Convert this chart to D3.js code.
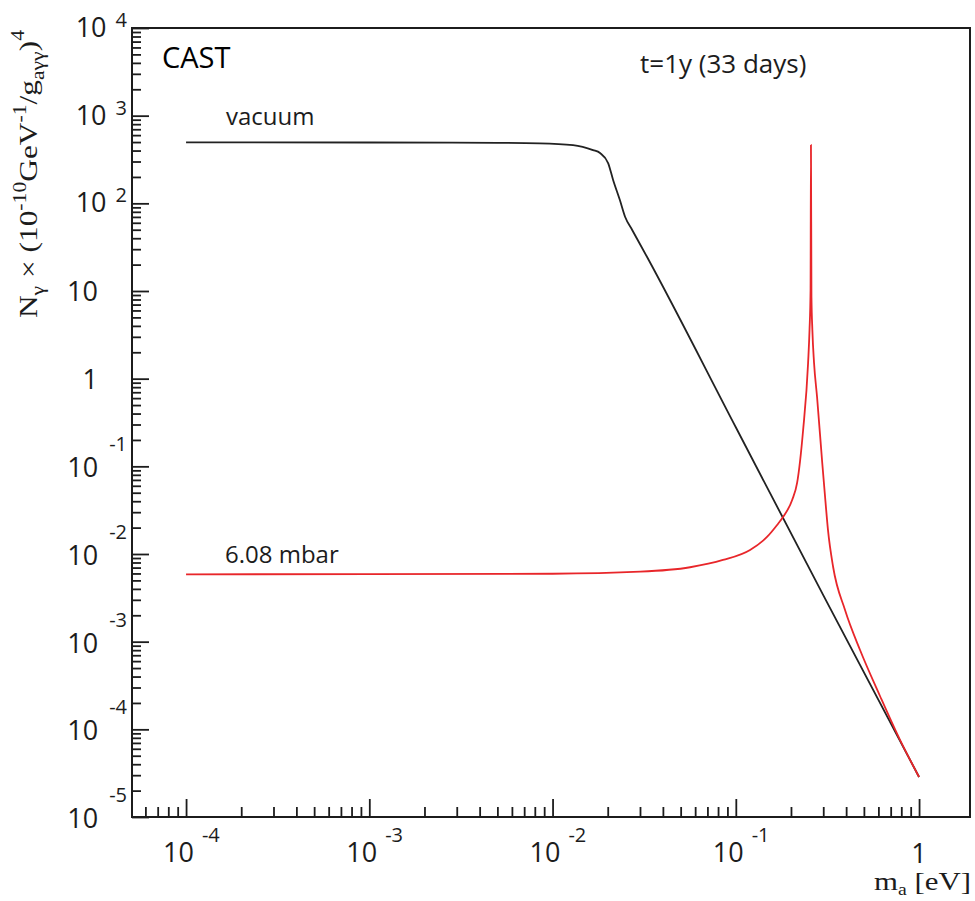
<!DOCTYPE html>
<html>
<head>
<meta charset="utf-8">
<script src="https://cdn.jsdelivr.net/npm/d3@7"></script>
<style>
  body { margin: 0; background: #fff; }
  svg { display: block; }
</style>
</head>
<body>
<div id="field"></div>
<script>
'use strict';

// vacuum curve: axion mass [eV] -> N_gamma
let vacMass  = [1e-4, 1e-3, 5e-3, 0.0085, 0.01294, 0.01663, 0.01816, 0.0201, 0.0214, 0.0233, 0.0249, 0.0272, 0.0328, 0.1, 0.3, 1.0],
    vacCount = [495, 494, 490, 484, 462, 405, 375, 288, 185, 109, 69.8, 49.7, 24.4, 0.279, 3.4e-3, 2.86e-5];

// 6.08 mbar curve
let gasMass  = [1e-4, 1e-3, 0.01, 0.0301, 0.0563, 0.0851, 0.1196, 0.148, 0.168, 0.181, 0.203, 0.216, 0.233, 0.248, 0.2525, 0.2558, 0.2571,
                0.2587, 0.2617, 0.2673, 0.2776, 0.2963, 0.308, 0.3184, 0.3397, 0.3945, 0.4764, 0.612, 0.787, 1.0],
    gasCount = [5.87e-3, 5.88e-3, 5.95e-3, 6.28e-3, 7.06e-3, 8.55e-3, 0.01112, 0.01564, 0.02143, 0.02643, 0.0413, 0.0646, 0.260, 1.51, 3.59, 10.2, 462,
                8.55, 3.59, 1.51, 0.618, 0.109, 0.0413, 0.0188, 7.11e-3, 2.30e-3, 8.03e-4, 2.40e-4, 7.57e-5, 2.86e-5];

// decade tick exponents
let xExps = [-4, -3, -2, -1, 0],
    yExps = [-5, -4, -3, -2, -1, 0, 1, 2, 3, 4];

let w = 975, h = 901,
    pl = 132, pr = 970, pt = 28, pb = 817,  // plot frame
    svg = d3.select('#field').append('svg').attr('width', w).attr('height', h);

let xScale = d3.scaleLog().domain([Math.pow(10, -4.295), Math.pow(10, 0.278)]).range([pl, pr]),
    yScale = d3.scaleLog().domain([1e-5, 1e4]).range([pb, pt]);

// minor ticks 2..9 x 10^n inside the domain
function minors(lo, hi, dom) {
  let out = [];
  for (let e = lo; e <= hi; e++) {
    for (let k = 2; k <= 9; k++) {
      let v = k * Math.pow(10, e);
      if (v > dom[0] && v < dom[1]) out.push(v);
    }
  }
  return out;
}

let ink = '#1c1c1c';

// y axis ticks (pointing inward)
let yMajor = yExps.map(e => Math.pow(10, e));
svg.append('g').attr('transform', 'translate(' + pl + ',0)')
  .call(d3.axisRight(yScale).tickValues(yMajor).tickSize(17).tickFormat(''))
  .call(g => g.select('.domain').remove());
svg.append('g').attr('transform', 'translate(' + pl + ',0)')
  .call(d3.axisRight(yScale).tickValues(minors(-5, 3, yScale.domain())).tickSize(9).tickFormat(''))
  .call(g => g.select('.domain').remove());

// x axis ticks (pointing up)
let xMajor = xExps.map(e => Math.pow(10, e));
svg.append('g').attr('transform', 'translate(0,' + pb + ')')
  .call(d3.axisTop(xScale).tickValues(xMajor).tickSize(18).tickFormat(''))
  .call(g => g.select('.domain').remove());
svg.append('g').attr('transform', 'translate(0,' + pb + ')')
  .call(d3.axisTop(xScale).tickValues(minors(-5, 0, xScale.domain())).tickSize(10).tickFormat(''))
  .call(g => g.select('.domain').remove());

svg.selectAll('.tick line').attr('stroke', ink).attr('stroke-width', 1.8);

// frame
svg.append('rect')
  .attr('x', pl).attr('y', pt)
  .attr('width', pr - pl).attr('height', pb - pt)
  .attr('fill', 'none').attr('stroke', ink).attr('stroke-width', 2);

// curves
let line = d3.line()
  .x(d => xScale(d[0]))
  .y(d => yScale(d[1]))
  .curve(d3.curveMonotoneX);

svg.append('path')
  .datum(vacMass.map((m, i) => [m, vacCount[i]]))
  .attr('d', line)
  .attr('fill', 'none').attr('stroke', '#222').attr('stroke-width', 1.8);

svg.append('path')
  .datum(gasMass.map((m, i) => [m, gasCount[i]]))
  .attr('d', line)
  .attr('fill', 'none').attr('stroke', '#e8262a').attr('stroke-width', 1.8);

// tick labels
let sans = '"Open Sans", "Noto Sans", sans-serif',
    serif = '"Liberation Serif", "DejaVu Serif", serif';

yExps.forEach(function(e) {
  let ty = yScale(Math.pow(10, e));
  let t = svg.append('text')
    .attr('font-family', sans).attr('font-size', 27).attr('fill', ink);
  if (e === 0 || e === 1) {
    t.attr('x', 98).attr('y', ty + 10).attr('text-anchor', 'end').text(e === 0 ? '1' : '10');
  } else {
    t.attr('x', 127).attr('y', ty + (e < 0 ? 11 : 9)).attr('text-anchor', 'end');
    t.append('tspan').text('10');
    t.append('tspan').attr('font-size', 20)
      .attr('dx', e < 0 ? 11 : 9).attr('dy', e < 0 ? -26 : -10)
      .text(String(e));
  }
});

xExps.forEach(function(e) {
  let tx = xScale(Math.pow(10, e));
  let t = svg.append('text')
    .attr('font-family', sans).attr('font-size', 27).attr('fill', ink);
  if (e === 0) {
    t.attr('x', tx).attr('y', 863).attr('text-anchor', 'middle').text('1');
  } else {
    t.attr('x', tx - 23).attr('y', 862);
    t.append('tspan').text('10');
    t.append('tspan').attr('font-size', 20).attr('dx', 8).attr('dy', -20).text(String(e));
  }
});

// axis titles
let xt = svg.append('text')
  .attr('x', 971).attr('y', 890).attr('text-anchor', 'end')
  .attr('font-family', serif).attr('font-size', 25).attr('fill', ink)
  .attr('textLength', 97).attr('lengthAdjust', 'spacingAndGlyphs');
xt.append('tspan').text('m');
xt.append('tspan').attr('font-size', 16).attr('dy', 5).text('a');
xt.append('tspan').attr('dy', -5).text('\u00a0[eV]');

let yt = svg.append('text')
  .attr('transform', 'translate(37,318) rotate(-90)')
  .attr('font-family', serif).attr('font-size', 26).attr('fill', ink)
  .attr('textLength', 288).attr('lengthAdjust', 'spacingAndGlyphs');
let yParts = [
  ['N', 26, 0], ['\u03b3', 18, 7], ['\u00a0\u00d7\u00a0(10', 26, -7], ['-10', 18, -11],
  ['GeV', 26, 11], ['-1', 18, -11], ['/g', 26, 11], ['a\u03b3\u03b3', 18, 7], [')', 26, -7], ['4', 18, -13]
];
yParts.forEach(function(p) {
  yt.append('tspan').attr('font-size', p[1]).attr('dy', p[2]).text(p[0]);
});

// annotations
svg.append('text').attr('x', 162).attr('y', 68)
  .attr('font-family', sans).attr('font-size', 29).attr('fill', '#000').text('CAST');
svg.append('text').attr('x', 640).attr('y', 73)
  .attr('font-family', sans).attr('font-size', 26).attr('fill', ink).text('t=1y (33 days)');
svg.append('text').attr('x', 226).attr('y', 125)
  .attr('font-family', sans).attr('font-size', 24).attr('fill', ink).text('vacuum');
svg.append('text').attr('x', 225).attr('y', 563)
  .attr('font-family', sans).attr('font-size', 24).attr('fill', ink).text('6.08 mbar');
</script>
</body>
</html>
